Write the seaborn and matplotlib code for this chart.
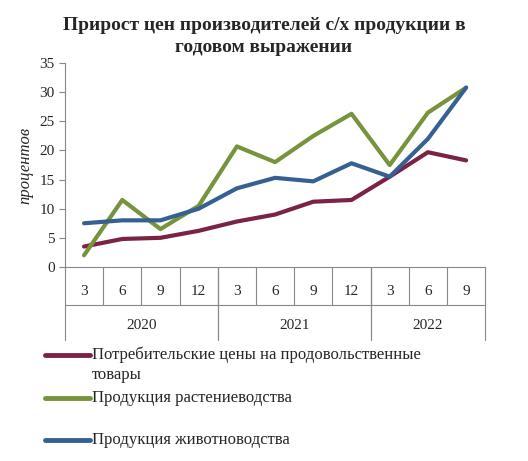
import pandas as pd
import seaborn as sns
import matplotlib.pyplot as plt
from matplotlib.lines import Line2D
import matplotlib.transforms as mtransforms

months = ["3", "6", "9", "12", "3", "6", "9", "12", "3", "6", "9"]
years = ["2020", "2021", "2022"]
year_sizes = [4, 4, 3]
consumer = [3.5, 4.8, 5.0, 6.2, 7.8, 9.0, 11.2, 11.5, 15.5, 19.7, 18.3]
crops = [2.0, 11.5, 6.5, 10.5, 20.7, 18.0, 22.5, 26.3, 17.5, 26.5, 30.8]
livestock = [7.5, 8.0, 8.0, 10.0, 13.5, 15.3, 14.7, 17.8, 15.5, 22.0, 30.8]

names = ["Потребительские цены на продовольственные\nтовары",
         "Продукция растениеводства",
         "Продукция животноводства"]
colors = ["#7B2346", "#77933C", "#376092"]

sns.set_style("white")
plt.rcParams['font.family'] = ['Liberation Serif', 'DejaVu Serif']

fig = plt.figure(figsize=(5.28, 4.61), dpi=100)
ax = fig.add_axes([0.123, 0.421, 0.796, 0.442])

df = pd.DataFrame({"x": range(len(months)), "consumer": consumer,
                   "crops": crops, "livestock": livestock})
for col, c in zip(["consumer", "crops", "livestock"], colors):
    sns.lineplot(data=df, x="x", y=col, color=c, lw=3, ax=ax)

ax.set_xlim(-0.5, len(months) - 0.5)
ax.set_ylim(0, 35)
ax.set_yticks(range(0, 36, 5))
ax.tick_params(axis='y', labelsize=11, length=4, color='#888888', direction='out', left=True)
ax.set_xticks([])
ax.set_xlabel("")
ax.set_ylabel("процентов", fontsize=12, style='italic')
for s in ["top", "right"]:
    ax.spines[s].set_visible(False)
for s in ["left", "bottom"]:
    ax.spines[s].set_color('#888888')

trans = mtransforms.blended_transform_factory(ax.transData, ax.transAxes)
for i, m in enumerate(months):
    ax.text(i, -0.123, m, transform=trans, ha='center', va='center', fontsize=11)
    if i > 0:
        ax.plot([i - 0.5, i - 0.5], [0, -0.186], transform=trans, color='#888888',
                lw=0.8, clip_on=False)
start = 0
for y, n in zip(years, year_sizes):
    ax.text(start + n / 2 - 0.5, -0.289, y, transform=trans, ha='center',
            va='center', fontsize=11)
    for b in (start - 0.5, start + n - 0.5):
        ax.plot([b, b], [0, -0.358], transform=trans, color='#888888',
                lw=0.8, clip_on=False)
    start += n
ax.plot([-0.5, len(months) - 0.5], [-0.186, -0.186], transform=trans,
        color='#888888', lw=0.8, clip_on=False)

fig.text(0.5, 0.92, "Прирост цен производителей с/х продукции в\nгодовом выражении",
         ha='center', va='center', fontsize=14, weight='bold', linespacing=1.4)

legend_y = [1 - 355 / 461, 1 - 398 / 461, 1 - 440 / 461]
for name, c, y in zip(names, colors, legend_y):
    fig.add_artist(Line2D([45 / 528, 90 / 528], [y, y], color=c, lw=3.5))
    fig.text(92 / 528, y + 0.018, name, ha='left', va='top', fontsize=12,
             linespacing=1.3)

fig.savefig("out.png", dpi=100)
